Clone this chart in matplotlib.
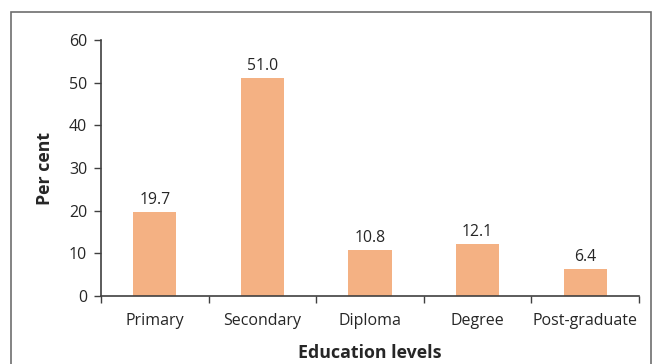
import matplotlib
matplotlib.use("Agg")
import matplotlib.pyplot as plt
from matplotlib.patches import Rectangle
from matplotlib.ticker import FixedLocator

categories = ["Primary", "Secondary", "Diploma", "Degree", "Post-graduate"]
values = [19.7, 51.0, 10.8, 12.1, 6.4]
y_ticks = [0, 10, 20, 30, 40, 50, 60]

plt.rcParams['font.family'] = ['Open Sans', 'DejaVu Sans']

fig = plt.figure(figsize=(6.57, 3.64), dpi=100)
ax = fig.add_axes([101/657, 1-296/364, (639-101)/657, (296-40)/364])

x = list(range(len(categories)))
ax.bar(x, values, width=0.4, color="#F4B183")
for xi, v in zip(x, values):
    ax.annotate(f"{v:.1f}", (xi, v), xytext=(0, 3), textcoords="offset points",
                ha="center", va="bottom", fontsize=11.3, color="#262626")

ax.set_xlim(-0.5, len(categories) - 0.5)
ax.set_ylim(0, 60)
ax.set_yticks(y_ticks)
ax.set_xticks(x)
ax.set_xticklabels(categories)
ax.xaxis.set_minor_locator(FixedLocator([i - 0.5 for i in range(len(categories) + 1)]))
ax.tick_params(axis="x", which="major", length=0, pad=12, labelsize=11.5, labelcolor="#262626")
ax.tick_params(axis="x", which="minor", length=5, width=1, color="#404040", direction="out")
ax.tick_params(axis="y", length=5, width=1, color="#404040", labelsize=11.5, labelcolor="#262626", pad=5)

for s in ["top", "right"]:
    ax.spines[s].set_visible(False)
for s in ["left", "bottom"]:
    ax.spines[s].set_color("#404040")
    ax.spines[s].set_linewidth(1.2)

ax.set_xlabel("Education levels", fontsize=12.8, fontweight="bold", color="#262626", labelpad=11)
ax.set_ylabel("Per cent", fontsize=12.8, fontweight="bold", color="#262626", labelpad=11)

fig.patches.append(Rectangle((11/657, -0.1), (651-11)/657, 1 - 12/364 + 0.1,
                             transform=fig.transFigure, fill=False,
                             edgecolor="#6e6e6e", linewidth=1.2))

fig.savefig("out.png", dpi=100)
